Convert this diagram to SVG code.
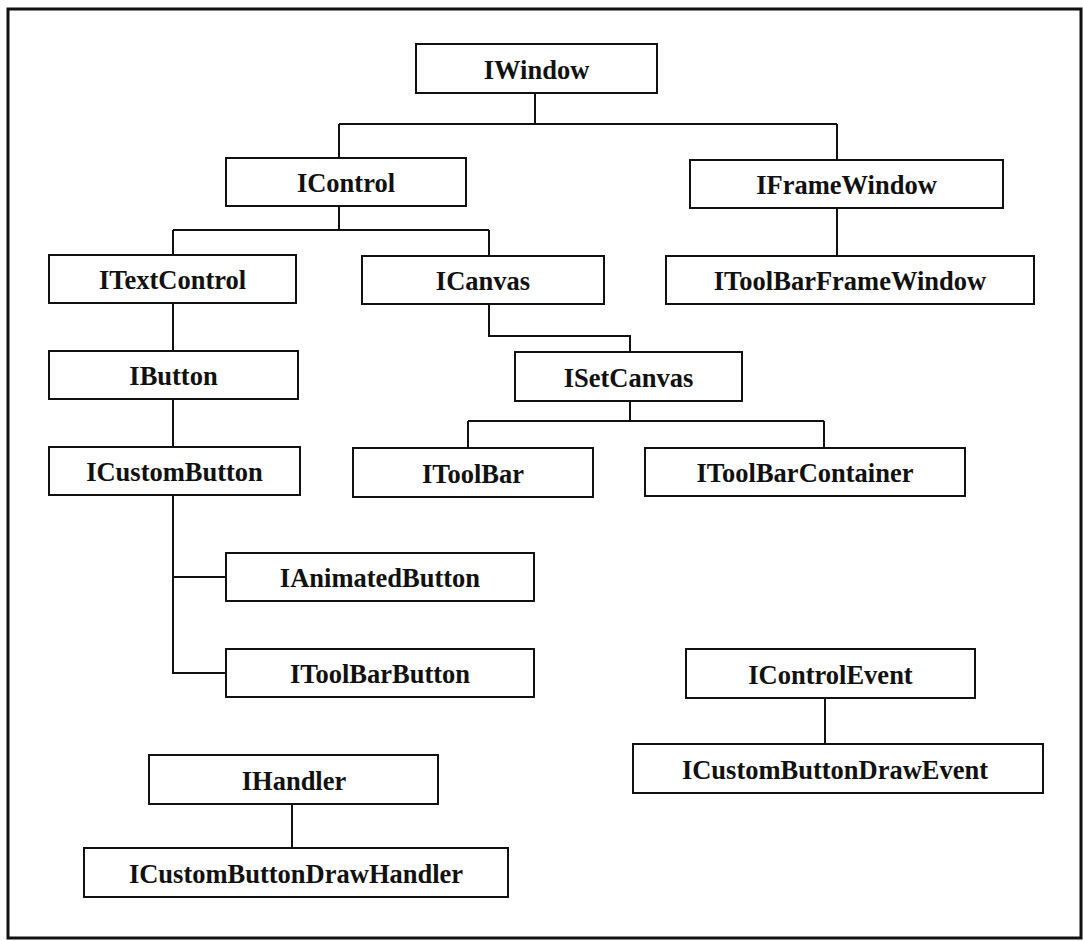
<svg xmlns="http://www.w3.org/2000/svg" width="1083" height="941" viewBox="0 0 1083 941">
  <style>
    .box { fill: #ffffff; stroke: #111111; stroke-width: 2; }
    .lbl { font-family: "Liberation Serif", "Times New Roman", serif; font-weight: bold; font-size: 26.5px; fill: #111111; text-anchor: middle; }
    .wire { fill: none; stroke: #111111; stroke-width: 2; }
    .frame { fill: #ffffff; stroke: #111111; stroke-width: 3; }
  </style>

  <!-- outer frame -->
  <rect class="frame" x="8" y="9" width="1073" height="929"/>

  <!-- class hierarchy links -->
  <g id="connectors">
    <path class="wire" d="M535,93 V124 M339,124 H837 M339,124 V158 M837,124 V160"/>
    <path class="wire" d="M837,208 V256"/>
    <path class="wire" d="M339,206 V230 M173,230 H489 M173,230 V255 M489,230 V256"/>
    <path class="wire" d="M173,303 V351 M173,399 V447"/>
    <path class="wire" d="M489,304 V336 H630 V352"/>
    <path class="wire" d="M630,401 V421 M468,421 H824 M468,421 V448 M824,421 V448"/>
    <path class="wire" d="M173,495 V673 H226 M173,577 H226"/>
    <path class="wire" d="M825,698 V744"/>
    <path class="wire" d="M292,804 V848"/>
  </g>

  <g id="IWindow">
    <rect class="box" x="416" y="44" width="241" height="49"/>
    <text class="lbl" x="536.5" y="79">IWindow</text>
  </g>
  <g id="IControl">
    <rect class="box" x="226" y="158" width="240" height="48"/>
    <text class="lbl" x="346" y="192">IControl</text>
  </g>
  <g id="IFrameWindow">
    <rect class="box" x="690" y="160" width="313" height="48"/>
    <text class="lbl" x="846.5" y="194">IFrameWindow</text>
  </g>
  <g id="ITextControl">
    <rect class="box" x="49" y="255" width="247" height="48"/>
    <text class="lbl" x="172.5" y="289">ITextControl</text>
  </g>
  <g id="ICanvas">
    <rect class="box" x="362" y="256" width="242" height="48"/>
    <text class="lbl" x="483" y="290">ICanvas</text>
  </g>
  <g id="IToolBarFrameWindow">
    <rect class="box" x="666" y="256" width="368" height="48"/>
    <text class="lbl" x="850" y="290">IToolBarFrameWindow</text>
  </g>
  <g id="IButton">
    <rect class="box" x="49" y="351" width="249" height="48"/>
    <text class="lbl" x="173.5" y="385">IButton</text>
  </g>
  <g id="ISetCanvas">
    <rect class="box" x="515" y="352" width="227" height="49"/>
    <text class="lbl" x="628.5" y="387">ISetCanvas</text>
  </g>
  <g id="ICustomButton">
    <rect class="box" x="49" y="447" width="251" height="48"/>
    <text class="lbl" x="174.5" y="481">ICustomButton</text>
  </g>
  <g id="IToolBar">
    <rect class="box" x="353" y="448" width="240" height="49"/>
    <text class="lbl" x="473" y="483">IToolBar</text>
  </g>
  <g id="IToolBarContainer">
    <rect class="box" x="645" y="448" width="320" height="48"/>
    <text class="lbl" x="805" y="482">IToolBarContainer</text>
  </g>
  <g id="IAnimatedButton">
    <rect class="box" x="226" y="553" width="308" height="48"/>
    <text class="lbl" x="380" y="587">IAnimatedButton</text>
  </g>
  <g id="IToolBarButton">
    <rect class="box" x="226" y="649" width="308" height="48"/>
    <text class="lbl" x="380" y="683">IToolBarButton</text>
  </g>
  <g id="IControlEvent">
    <rect class="box" x="686" y="649" width="289" height="49"/>
    <text class="lbl" x="830.5" y="684">IControlEvent</text>
  </g>
  <g id="ICustomButtonDrawEvent">
    <rect class="box" x="633" y="744" width="410" height="49"/>
    <text class="lbl" x="835" y="779">ICustomButtonDrawEvent</text>
  </g>
  <g id="IHandler">
    <rect class="box" x="149" y="755" width="289" height="49"/>
    <text class="lbl" x="294" y="790">IHandler</text>
  </g>
  <g id="ICustomButtonDrawHandler">
    <rect class="box" x="84" y="848" width="424" height="49"/>
    <text class="lbl" x="296" y="883">ICustomButtonDrawHandler</text>
  </g>
</svg>
